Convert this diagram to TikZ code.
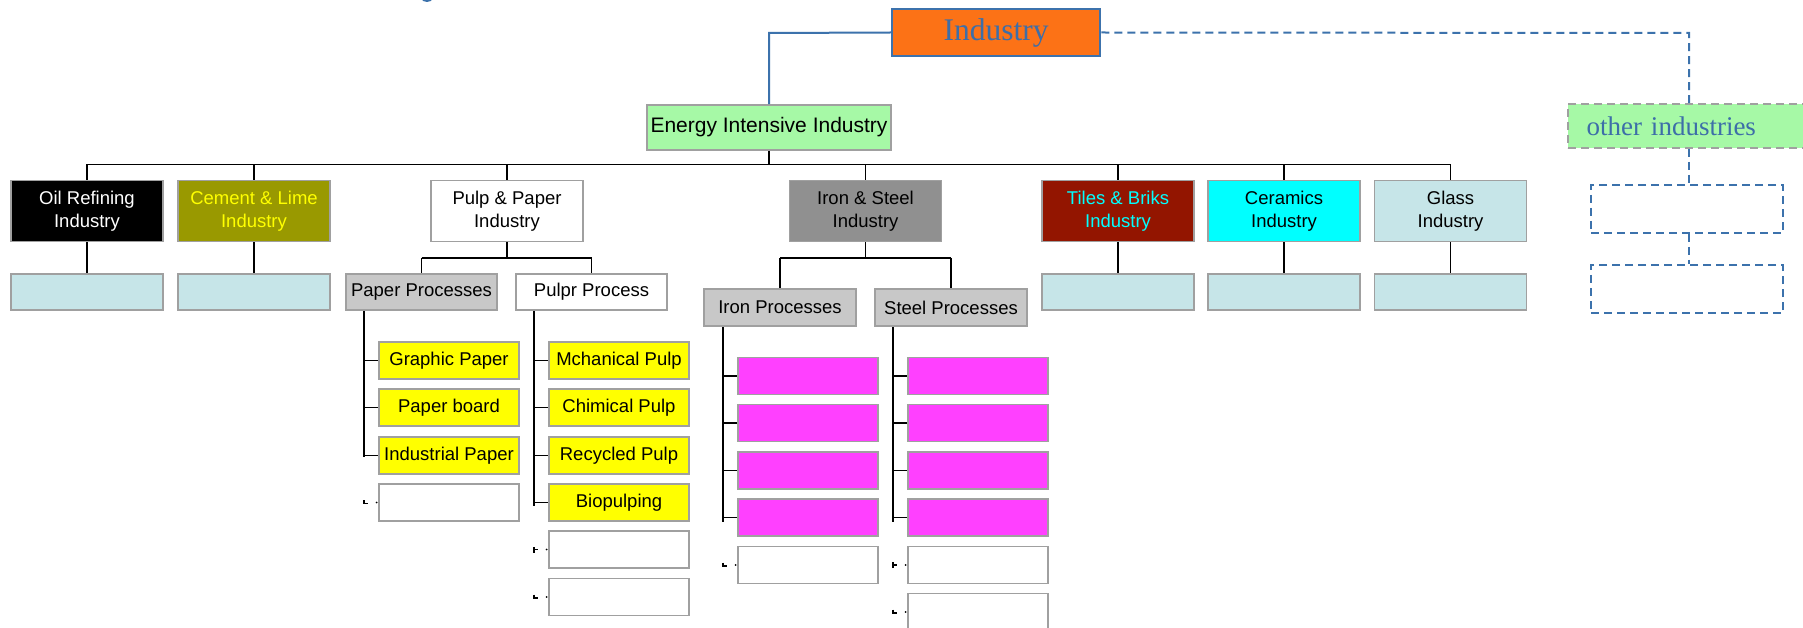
\documentclass[tikz,border=0pt]{standalone}
\usepackage{fontspec}
\setmainfont{Liberation Serif}
\setsansfont{Liberation Sans}
\definecolor{indorange}{HTML}{FC7216}
\definecolor{indblue}{HTML}{3C72AC}
\definecolor{txtblue}{HTML}{3D6EA8}
\definecolor{lgreen}{HTML}{A6F9A6}
\definecolor{bgray}{HTML}{A0A0A0}
\definecolor{olive}{HTML}{999900}
\definecolor{midgray}{HTML}{909090}
\definecolor{darkred}{HTML}{931500}
\definecolor{paleblue}{HTML}{C6E5E8}
\definecolor{lgray}{HTML}{C8C8C8}
\definecolor{magen}{HTML}{FF40FF}
\definecolor{cyanrgb}{HTML}{00FFFF}
\definecolor{yelrgb}{HTML}{FFFF00}
\tikzset{
  box/.style={draw=bgray, line width=1.8pt, inner sep=0pt, align=center,
    font=\sffamily\fontsize{18.5}{22.5}\selectfont, text=black},
  topbox/.style={box, minimum width=152pt, minimum height=61pt},
  rowbox/.style={box, minimum width=152pt, minimum height=36pt},
  procbox/.style={box, minimum width=152pt, minimum height=37pt},
  itembox/.style={box, minimum width=140pt, minimum height=37pt},
  conn/.style={draw=black, line width=1.6pt},
  blueconn/.style={draw=indblue, line width=2pt},
  dashconn/.style={draw=indblue, line width=2pt, dash pattern=on 8pt off 5pt},
  dashbox/.style={draw=indblue, line width=2pt, dash pattern=on 8pt off 5pt, minimum width=192pt, minimum height=48pt, inner sep=0pt},
  stub/.style={draw=black, line width=1.4pt},
}
\begin{document}
\begin{tikzpicture}[x=1pt,y=-1pt]
\useasboundingbox (0,0) rectangle (1803,628);
\clip (0,0) rectangle (1803,628);
\fill[white] (0,0) rectangle (1803,628);
% fragment of cut-off title
\fill[indblue] (427,-1.5) ellipse (5.5 and 3.5);

% top
\node[draw=indblue, line width=2.5pt, fill=indorange, minimum width=208pt, minimum height=47pt, inner sep=0pt,
  font=\fontsize{31.5}{36}\selectfont, text=txtblue] (ind) at (996,32.5) {Industry};
\node[box, fill=lgreen, minimum width=244pt, minimum height=45pt, font=\sffamily\fontsize{21}{25}\selectfont] (eii) at (769,127.5) {Energy Intensive Industry};
\node[draw=bgray, line width=1.8pt, dash pattern=on 8pt off 5pt, fill=lgreen, minimum height=44pt, inner ysep=0pt,
  inner xsep=18.5pt, text width=205pt, align=left, font=\fontsize{27}{30}\selectfont, text=txtblue] (oth) at (1689,126) {other industries};
\node[dashbox] (ob1) at (1687,209) {};
\node[dashbox] (ob2) at (1687,289) {};

\coordinate (bl) at (769,33);
\draw[blueconn] (ind.west) -- (bl) -- (eii.north);
\coordinate (dr) at (1689,33);
\draw[dashconn] (ind.east) -- (dr) -- (oth.north);
\draw[dashconn] (oth.south) -- (oth.south |- ob1.north);
\draw[dashconn] (ob1.south -| oth.south) -- (oth.south |- ob2.north);

% level 1
\node[topbox, fill=black, text=white] (oil) at (87,211) {Oil Refining\\Industry};
\node[topbox, fill=olive, text=yelrgb] (cem) at (254,211) {Cement \& Lime\\Industry};
\node[topbox, fill=white] (pulp) at (507,211) {Pulp \& Paper\\Industry};
\node[topbox, fill=midgray] (iron) at (865.5,211) {Iron \& Steel\\Industry};
\node[topbox, fill=darkred, text=cyanrgb] (tile) at (1118,211) {Tiles \& Briks\\Industry};
\node[topbox, fill=cyanrgb] (cer) at (1284,211) {Ceramics\\Industry};
\node[topbox, fill=paleblue] (gla) at (1450.5,211) {Glass\\Industry};

\coordinate (bus) at (769,164.5);
\draw[conn] (eii.south) -- (bus);
\draw[conn] (oil.north |- bus) -- (gla.north |- bus);
\foreach \n in {oil,cem,pulp,iron,tile,cer,gla}{
  \draw[conn] (\n.north |- bus) -- (\n.north);
}

% level 2 empties
\node[rowbox, fill=paleblue] (oil2) at (87,292) {};
\node[rowbox, fill=paleblue] (cem2) at (254,292) {};
\node[rowbox, fill=paleblue] (tile2) at (1118,292) {};
\node[rowbox, fill=paleblue] (cer2) at (1284,292) {};
\node[rowbox, fill=paleblue] (gla2) at (1450.5,292) {};
\foreach \n in {oil,cem,tile,cer,gla}{
  \draw[conn] (\n.south) -- (\n2.north);
}

% pulp & paper
\node[rowbox, minimum width=151pt, fill=lgray] (pp) at (421.5,292) {Paper Processes};
\node[rowbox, minimum width=151pt, fill=white] (pu) at (591.5,292) {Pulpr Process};
\coordinate (pbus) at (507,258);
\draw[conn] (pulp.south) -- (pbus);
\draw[conn] (pp.north |- pbus) -- (pu.north |- pbus);
\draw[conn] (pp.north |- pbus) -- (pp.north);
\draw[conn] (pu.north |- pbus) -- (pu.north);

% iron & steel
\node[procbox, fill=lgray] (ip) at (780,307.5) {Iron Processes};
\node[procbox, fill=lgray] (sp) at (951,307.5) {Steel Processes};
\coordinate (ibus) at (865.5,258);
\draw[conn] (iron.south) -- (ibus);
\draw[conn] (ip.north |- ibus) -- (sp.north |- ibus);
\draw[conn] (ip.north |- ibus) -- (ip.north);
\draw[conn] (sp.north |- ibus) -- (sp.north);

% paper items
\node[itembox, fill=yelrgb] (g1) at (449,360.5) {Graphic Paper};
\node[itembox, fill=yelrgb] (g2) at (449,407.5) {Paper board};
\node[itembox, fill=yelrgb] (g3) at (449,455.5) {Industrial Paper};
\node[itembox, fill=white] (g4) at (449,502.5) {};
\coordinate (pcol) at (364,457);
\draw[conn] (pp.south -| pcol) -- (pcol);
\foreach \n in {g1,g2,g3}{ \draw[conn] (\n.west -| pcol) -- (\n.west); }

% pulp items
\node[itembox, fill=yelrgb] (h1) at (619,360.5) {Mchanical Pulp};
\node[itembox, fill=yelrgb] (h2) at (619,407.5) {Chimical Pulp};
\node[itembox, fill=yelrgb] (h3) at (619,455.5) {Recycled Pulp};
\node[itembox, fill=yelrgb] (h4) at (619,502.5) {Biopulping};
\node[itembox, fill=white] (h5) at (619,549.5) {};
\node[itembox, fill=white] (h6) at (619,597) {};
\coordinate (hcol) at (534,506);
\draw[conn] (pu.south -| hcol) -- (hcol);
\foreach \n in {h1,h2,h3,h4}{ \draw[conn] (\n.west -| hcol) -- (\n.west); }

% iron items
\node[itembox, fill=magen] (i1) at (808,376) {};
\node[itembox, fill=magen] (i2) at (808,423) {};
\node[itembox, fill=magen] (i3) at (808,470.5) {};
\node[itembox, fill=magen] (i4) at (808,517.5) {};
\node[itembox, fill=white] (i5) at (808,565) {};
\coordinate (icol) at (723,522);
\draw[conn] (ip.south -| icol) -- (icol);
\foreach \n in {i1,i2,i3,i4}{ \draw[conn] (\n.west -| icol) -- (\n.west); }

% steel items
\node[itembox, fill=magen] (s1) at (978,376) {};
\node[itembox, fill=magen] (s2) at (978,423) {};
\node[itembox, fill=magen] (s3) at (978,470.5) {};
\node[itembox, fill=magen] (s4) at (978,517.5) {};
\node[itembox, fill=white] (s5) at (978,565) {};
\node[itembox, fill=white] (s6) at (978,612) {};
\coordinate (scol) at (893,522);
\draw[conn] (sp.south -| scol) -- (scol);
\foreach \n in {s1,s2,s3,s4}{ \draw[conn] (\n.west -| scol) -- (\n.west); }

% leftover connector stubs
\foreach \n/\c in {g4/pcol,h6/hcol,i5/icol,s6/scol}{
  \draw[stub] ([yshift=2.5pt]\n.west -| \c) -- ([yshift=-1pt]\n.west -| \c) -- ([xshift=4pt,yshift=-1pt]\n.west -| \c);
  \fill[black] ([xshift=-1.5pt]\n.west) circle (0.9pt);
}
\foreach \n/\c in {h5/hcol,s5/scol}{
  \draw[stub] ([yshift=-3pt]\n.west -| \c) -- ([yshift=3pt]\n.west -| \c);
  \draw[stub] (\n.west -| \c) -- ([xshift=4pt]\n.west -| \c);
  \fill[black] ([xshift=-1.5pt]\n.west) circle (0.9pt);
}
\end{tikzpicture}
\end{document}
